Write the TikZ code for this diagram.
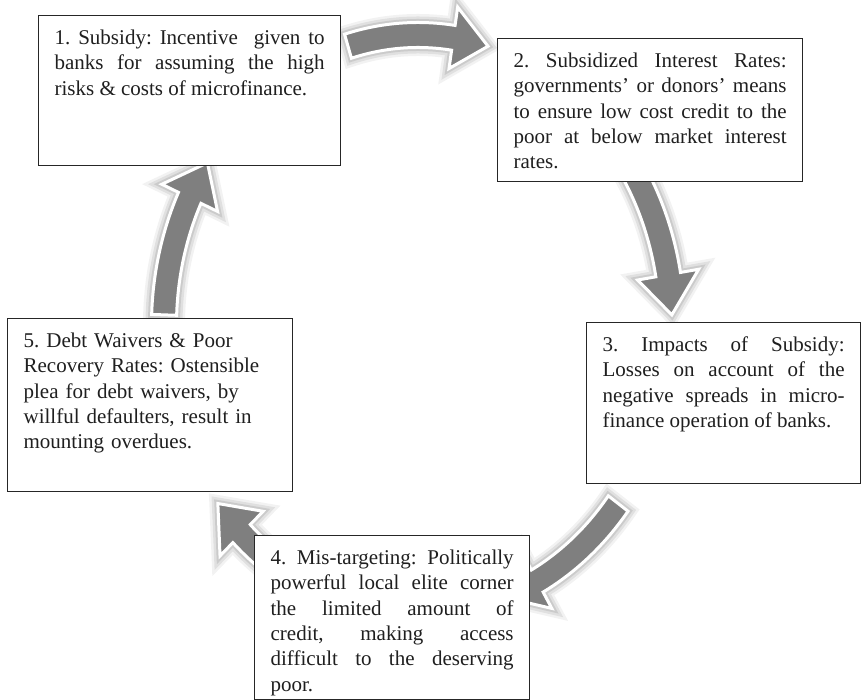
\documentclass[tikz,border=0pt]{standalone}
\usepackage{fontspec}
\setmainfont{Liberation Serif}
\usepackage{xcolor}
\frenchspacing
\definecolor{arrowgray}{HTML}{7F7F7F}
\definecolor{boxline}{HTML}{262626}
\tikzset{arrowbody/.style={fill=arrowgray,draw=white,line width=3pt,
    preaction={draw=black,opacity=0.05,line width=17pt},
    preaction={draw=black,opacity=0.07,line width=12pt},
    preaction={draw=black,opacity=0.09,line width=7pt}}}
\tikzset{stagebox/.style={draw=boxline,line width=1.3pt,fill=white,anchor=north west,
    inner xsep=16pt,inner ysep=0pt,text height=29pt,text=black!88,
    font=\fontsize{21}{25.3}\selectfont}}
% centre and radii of the ring of arrows
\def\ringx{418}\def\ringy{375}\def\ringa{254}\def\ringb{290}
\def\shaftw{12.5}\def\headw{31}
\newcommand{\cyclearrow}[2]{%
  \pgfmathsetmacro{\angA}{#1}\pgfmathsetmacro{\angB}{#2}\pgfmathsetmacro{\angH}{#2+8}%
  \pgfmathsetmacro{\rxo}{\ringa+\shaftw}\pgfmathsetmacro{\ryo}{\ringb+\shaftw}%
  \pgfmathsetmacro{\rxi}{\ringa-\shaftw}\pgfmathsetmacro{\ryi}{\ringb-\shaftw}%
  \pgfmathsetmacro{\rxh}{\ringa+\headw}\pgfmathsetmacro{\ryh}{\ringb+\headw}%
  \pgfmathsetmacro{\rxk}{\ringa-\headw}\pgfmathsetmacro{\ryk}{\ringb-\headw}%
  \path[arrowbody] ({\ringx+\rxo*cos(\angA)},{\ringy+\ryo*sin(\angA)})
    arc[start angle=\angA,end angle=\angH,x radius=\rxo,y radius=\ryo]
    -- ({\ringx+\rxh*cos(\angH)},{\ringy+\ryh*sin(\angH)})
    -- ({\ringx+\ringa*cos(\angB)},{\ringy+\ringb*sin(\angB)})
    -- ({\ringx+\rxk*cos(\angH)},{\ringy+\ryk*sin(\angH)})
    -- ({\ringx+\rxi*cos(\angH)},{\ringy+\ryi*sin(\angH)})
    arc[start angle=\angH,end angle=\angA,x radius=\rxi,y radius=\ryi]
    -- cycle;
}
\begin{document}
\begin{tikzpicture}[x=1pt,y=1pt]
\path[use as bounding box,fill=white] (0,0) rectangle (863,700);
% the five arrows of the cycle
\foreach \a in {90,18,-54,-126,-198} {\cyclearrow{\a+16}{\a-16}}
%
\node (subsidy) [stagebox,text width=270pt,text depth=121pt,align=justify] at (38,685)
  {1. Subsidy: Incentive\ \ given to\linebreak banks for assuming the high\linebreak risks \& costs of microfinance.};
\node (rates) [stagebox,text width=273pt,text depth=114pt,align=justify] at (497,662)
  {2. Subsidized Interest Rates:\linebreak governments' or donors' means\linebreak to ensure low cost credit to the\linebreak poor at below market interest\linebreak rates.};
\node (impacts) [stagebox,text width=242pt,text depth=132pt,align=justify] at (586,378)
  {3. Impacts of Subsidy:\linebreak Losses on account of the\linebreak negative spreads in micro-\linebreak finance operation of banks.};
\node (targeting) [stagebox,text width=243pt,text depth=135pt,align=justify] at (254,165)
  {4. Mis-targeting: Politically\linebreak powerful local elite corner\linebreak the limited amount of\linebreak credit, making access\linebreak difficult to the deserving\linebreak poor.};
\node (waivers) [stagebox,text width=253pt,text depth=144pt,align=left] at (7,382)
  {5. Debt Waivers \& Poor\\ Recovery Rates: Ostensible\\ plea for debt waivers, by\\ willful defaulters, result in\\ mounting overdues.};
\end{tikzpicture}
\end{document}
